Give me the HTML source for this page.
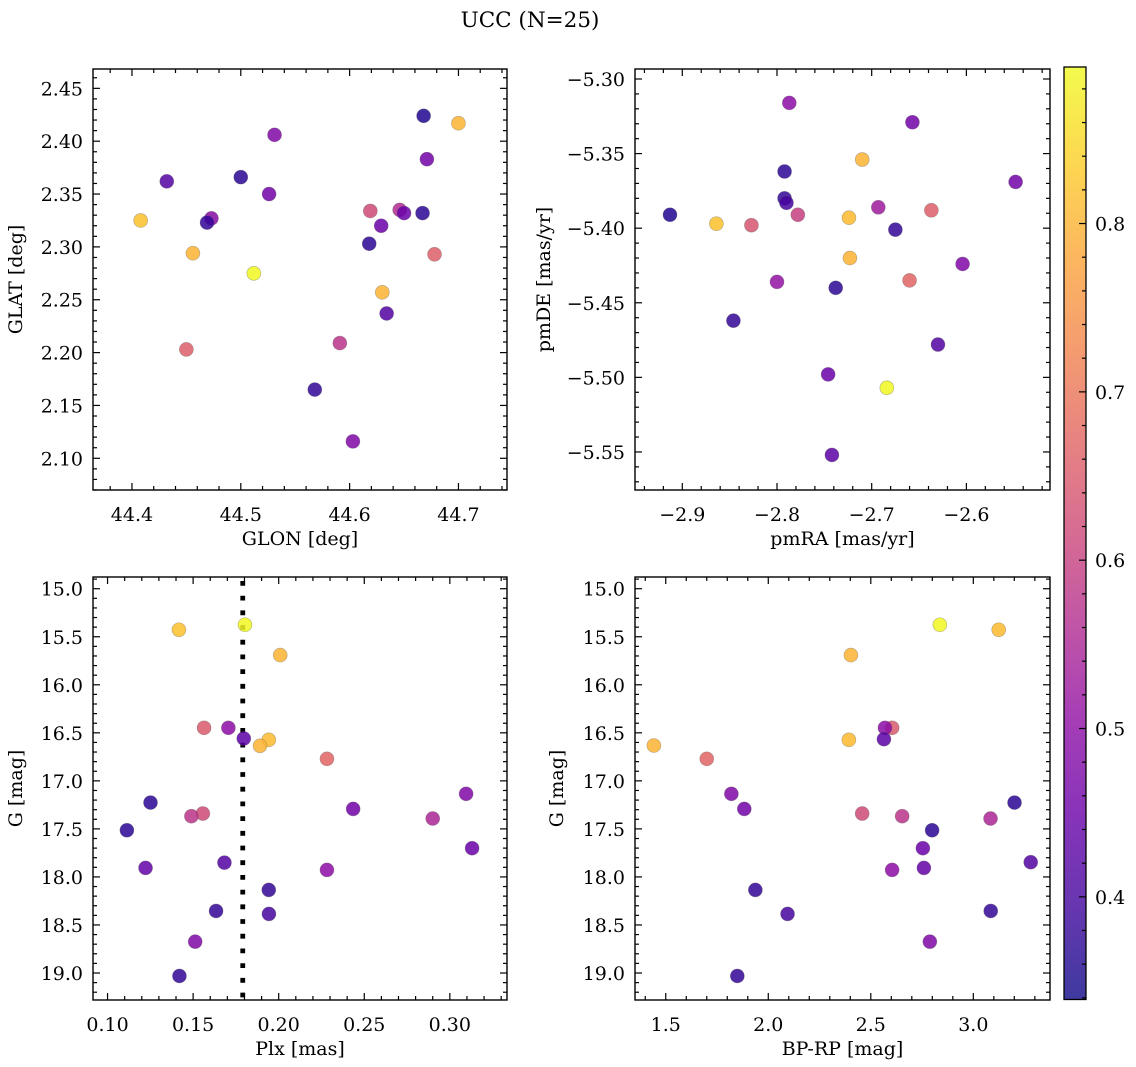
<!DOCTYPE html>
<html>
<head>
<meta charset="utf-8">
<style>
  html,body{margin:0;padding:0;background:#fff;}
  svg{display:block;font-family:"DejaVu Serif","Liberation Serif",serif;}
</style>
</head>
<body>
<svg id="fig" width="1136" height="1067" viewBox="0 0 1136 1067" xmlns="http://www.w3.org/2000/svg">
  <text x="530" y="27" font-size="21.5" text-anchor="middle" fill="#000">UCC (N=25)</text>
</svg>
<script>
// ---------- data ----------
const glon = [44.668,44.700,44.531,44.671,44.432,44.500,44.526,44.408,44.473,44.469,44.619,44.646,44.650,44.667,44.629,44.618,44.456,44.678,44.512,44.630,44.634,44.450,44.591,44.568,44.603];
const glat = [2.424,2.417,2.406,2.383,2.362,2.366,2.350,2.325,2.327,2.323,2.334,2.335,2.332,2.332,2.320,2.303,2.294,2.293,2.275,2.257,2.237,2.203,2.209,2.165,2.116];
const cTop1 = [0.36,0.80,0.48,0.46,0.42,0.37,0.46,0.82,0.49,0.38,0.62,0.56,0.45,0.37,0.45,0.37,0.80,0.66,0.89,0.80,0.42,0.66,0.58,0.38,0.48];

const pmra = [-2.787,-2.657,-2.710,-2.792,-2.548,-2.792,-2.790,-2.693,-2.637,-2.913,-2.778,-2.724,-2.864,-2.827,-2.675,-2.723,-2.604,-2.660,-2.800,-2.738,-2.846,-2.630,-2.746,-2.684,-2.742];
const pmde = [-5.316,-5.329,-5.354,-5.362,-5.369,-5.380,-5.383,-5.386,-5.388,-5.391,-5.391,-5.393,-5.397,-5.398,-5.401,-5.420,-5.424,-5.435,-5.436,-5.440,-5.462,-5.478,-5.498,-5.507,-5.552];
const cTop2 = [0.50,0.46,0.80,0.37,0.46,0.38,0.40,0.53,0.66,0.36,0.60,0.81,0.82,0.64,0.38,0.80,0.48,0.67,0.51,0.37,0.38,0.42,0.45,0.89,0.43];

const plx  = [0.1417,0.1803,0.2009,0.1564,0.1706,0.1796,0.1942,0.1891,0.2282,0.3095,0.1251,0.2435,0.1557,0.1490,0.2900,0.1113,0.3130,0.1683,0.1222,0.2282,0.1942,0.1634,0.1943,0.1512,0.1420];
const gmag = [15.427,15.375,15.691,16.448,16.448,16.559,16.573,16.635,16.771,17.135,17.226,17.292,17.340,17.368,17.392,17.514,17.701,17.851,17.906,17.927,18.135,18.354,18.385,18.674,19.031];
const bprp = [3.124,2.837,2.403,2.604,2.569,2.564,2.393,1.442,1.700,1.820,3.201,1.883,2.458,2.653,3.084,2.799,2.754,3.280,2.759,2.604,1.937,3.085,2.094,2.788,1.849];
const gmag4 = [15.427,15.375,15.691,16.448,16.448,16.566,16.573,16.632,16.771,17.135,17.226,17.292,17.340,17.368,17.392,17.514,17.701,17.847,17.906,17.927,18.135,18.354,18.385,18.674,19.031];
const cBot = [0.82,0.89,0.80,0.65,0.50,0.43,0.81,0.80,0.67,0.48,0.37,0.46,0.62,0.58,0.55,0.37,0.45,0.42,0.44,0.50,0.38,0.38,0.40,0.48,0.38];
const cBot4 = [0.81,0.89,0.80,0.65,0.50,0.43,0.81,0.80,0.67,0.48,0.37,0.46,0.62,0.58,0.55,0.37,0.45,0.42,0.44,0.50,0.38,0.38,0.40,0.48,0.38];
const plxLine = [0.179];

const glonTicks = [44.4,44.5,44.6,44.7];
const glatTicks = [2.10,2.15,2.20,2.25,2.30,2.35,2.40,2.45];
const pmraTicks = [-2.9,-2.8,-2.7,-2.6];
const pmdeTicks = [-5.55,-5.50,-5.45,-5.40,-5.35,-5.30];
const plxTicks = [0.10,0.15,0.20,0.25,0.30];
const gTicks = [15.0,15.5,16.0,16.5,17.0,17.5,18.0,18.5,19.0];
const bprpTicks = [1.5,2.0,2.5,3.0];
const cbarTicks = [0.4,0.5,0.6,0.7,0.8];
const cbarRange = [0.339,0.893];

// ---------- helpers ----------
const NS = "http://www.w3.org/2000/svg";
const fig = document.getElementById('fig');
const plasma = ["#0d0887","#41049d","#6a00a8","#8f0da4","#b12a90","#cc4778","#e16462","#f2844b","#fca636","#fcce25","#f0f921"];
function hex2rgb(h){return [parseInt(h.substr(1,2),16),parseInt(h.substr(3,2),16),parseInt(h.substr(5,2),16)];}
function cmap(v){
  let t=(v-cbarRange[0])/(cbarRange[1]-cbarRange[0]); t=Math.max(0,Math.min(1,t));
  const f=t*10, i=Math.min(9,Math.floor(f)), r=f-i;
  const a=hex2rgb(plasma[i]), b=hex2rgb(plasma[i+1]);
  return "rgb("+a.map((x,k)=>Math.round(x+(b[k]-x)*r)).join(",")+")";
}
function mk(tag, attrs, parent){
  const e=document.createElementNS(NS,tag);
  for(const k in attrs) e.setAttribute(k,attrs[k]);
  (parent||fig).appendChild(e); return e;
}
function fmt(v,d){ const s=Math.abs(v).toFixed(d); return (v<0?"\u2212":"")+s; }

function panel(o){
  const g=mk('g',{});
  
  
  const sx=v=>o.x0+(v-o.xd[0])/(o.xd[1]-o.xd[0])*(o.x1-o.x0);
  const sy=v=>o.y0+(v-o.yd[0])/(o.yd[1]-o.yd[0])*(o.y1-o.y0);
  const xlo=Math.min(o.xd[0],o.xd[1]), xhi=Math.max(o.xd[0],o.xd[1]);
  for(let v=Math.ceil(xlo/o.xm-1e-6)*o.xm; v<=xhi+1e-9; v+=o.xm){
    const X=sx(v); const isMaj=o.xt.some(t=>Math.abs(t-v)<o.xm/10); const L=isMaj?7:4;
    mk('line',{x1:X,x2:X,y1:o.y1,y2:o.y1-L,stroke:'#000','stroke-width':1.2},g);
    mk('line',{x1:X,x2:X,y1:o.y0,y2:o.y0+L,stroke:'#000','stroke-width':1.2},g);
  }
  const ylo=Math.min(o.yd[0],o.yd[1]), yhi=Math.max(o.yd[0],o.yd[1]);
  for(let v=Math.ceil(ylo/o.ym-1e-6)*o.ym; v<=yhi+1e-9; v+=o.ym){
    const Y=sy(v); const isMaj=o.yt.some(t=>Math.abs(t-v)<o.ym/10); const L=isMaj?7:4;
    mk('line',{x1:o.x0,x2:o.x0+L,y1:Y,y2:Y,stroke:'#000','stroke-width':1.2},g);
    mk('line',{x1:o.x1,x2:o.x1-L,y1:Y,y2:Y,stroke:'#000','stroke-width':1.2},g);
  }
  o.xt.forEach(t=>{
    const e=mk('text',{x:sx(t),y:o.y1+31,'font-size':19,'text-anchor':'middle',fill:'#000'},g);
    
    
    e.textContent=fmt(t,o.xdp);
  });
  o.yt.forEach(t=>{
    const e=mk('text',{x:o.x0-10,y:sy(t)+7,'font-size':19,'text-anchor':'end',fill:'#000'},g);
    
    
    e.textContent=fmt(t,o.ydp);
  });
  const xl=mk('text',{x:(o.x0+o.x1)/2,y:o.y1+55,'font-size':19,'text-anchor':'middle',fill:'#000'},g);
  
  
  xl.textContent=o.xlab;
  const yc=(o.y0+o.y1)/2;
  const yl=mk('text',{x:o.ytx,y:yc,'font-size':19,'text-anchor':'middle',fill:'#000',transform:`rotate(-90 ${o.ytx} ${yc})`},g);
  
  
  yl.textContent=o.ylab;
  if(o.vline){ o.vline.forEach(v=>{
    const l=mk('line',{x1:sx(v),x2:sx(v),y1:o.y0+4,y2:o.y1,stroke:'#000','stroke-width':4.8,'stroke-dasharray':'4.8 9.9'},g);
    
    
  });}
  o.xs.forEach((xv,i)=>{
    const c=mk('circle',{cx:sx(xv),cy:sy(o.ys[i]),r:7,fill:cmap(o.cs[i]),'fill-opacity':0.85,stroke:'rgba(90,90,90,0.45)','stroke-width':0.6},g);
    
    
  });
  const f=mk('rect',{x:o.x0,y:o.y0,width:o.x1-o.x0,height:o.y1-o.y0,fill:'none',stroke:'#000','stroke-width':1.4},g);
  
  
}

panel({name:'glon-glat-panel',x0:93,x1:507,y0:69,y1:490,xd:[44.3642,44.7446],yd:[2.4683,2.0700],
  xt:glonTicks,xm:0.02,yt:glatTicks,ym:0.01,xdp:1,ydp:2,xlab:'GLON [deg]',ylab:'GLAT [deg]',ytx:22,
  xs:glon,ys:glat,cs:cTop1});
panel({name:'pmra-pmde-panel',x0:635,x1:1050,y0:69,y1:490,xd:[-2.94995,-2.5117],yd:[-5.2933,-5.5755],
  xt:pmraTicks,xm:0.02,yt:pmdeTicks,ym:0.01,xdp:1,ydp:2,xlab:'pmRA [mas/yr]',ylab:'pmDE [mas/yr]',ytx:550,
  xs:pmra,ys:pmde,cs:cTop2});
panel({name:'plx-g-panel',x0:93,x1:507,y0:577,y1:1000,xd:[0.0915,0.3334],yd:[14.878,19.281],
  xt:plxTicks,xm:0.01,yt:gTicks,ym:0.1,xdp:2,ydp:1,xlab:'Plx [mas]',ylab:'G [mag]',ytx:22,
  xs:plx,ys:gmag,cs:cBot,vline:plxLine});
panel({name:'bprp-g-panel',x0:635,x1:1050,y0:577,y1:1000,xd:[1.350,3.374],yd:[14.878,19.281],
  xt:bprpTicks,xm:0.1,yt:gTicks,ym:0.1,xdp:1,ydp:1,xlab:'BP-RP [mag]',ylab:'G [mag]',ytx:563,
  xs:bprp,ys:gmag4,cs:cBot4});

// ---------- colorbar ----------
(function(){
  const x0=1064,x1=1086,y0=67,y1=999.5;
  const g=mk('g',{});
  
  
  const defs=mk('defs',{},g);
  const lg=mk('linearGradient',{id:'cbg',x1:0,y1:1,x2:0,y2:0},defs);
  for(let k=0;k<=20;k++){
    const v=cbarRange[0]+(cbarRange[1]-cbarRange[0])*k/20;
    mk('stop',{offset:(k/20),'stop-color':cmap(v),'stop-opacity':0.8},lg);
  }
  const r=mk('rect',{x:x0,y:y0,width:x1-x0,height:y1-y0,fill:'url(#cbg)',stroke:'#000','stroke-width':1.3},g);
  
  
  const sy=v=>y1-(v-cbarRange[0])/(cbarRange[1]-cbarRange[0])*(y1-y0);
  for(let v=0.34;v<=0.8925;v+=0.02){
    const Y=sy(v); const maj=cbarTicks.some(t=>Math.abs(t-v)<0.004); const L=maj?7:4;
    mk('line',{x1:x1,x2:x1-L,y1:Y,y2:Y,stroke:'#000','stroke-width':1.2},g);
  }
  cbarTicks.forEach(t=>{
    const e=mk('text',{x:x1+9,y:sy(t)+7,'font-size':19,fill:'#000'},g);
    
    
    e.textContent=t.toFixed(1);
  });
})();
</script>
</body>
</html>
